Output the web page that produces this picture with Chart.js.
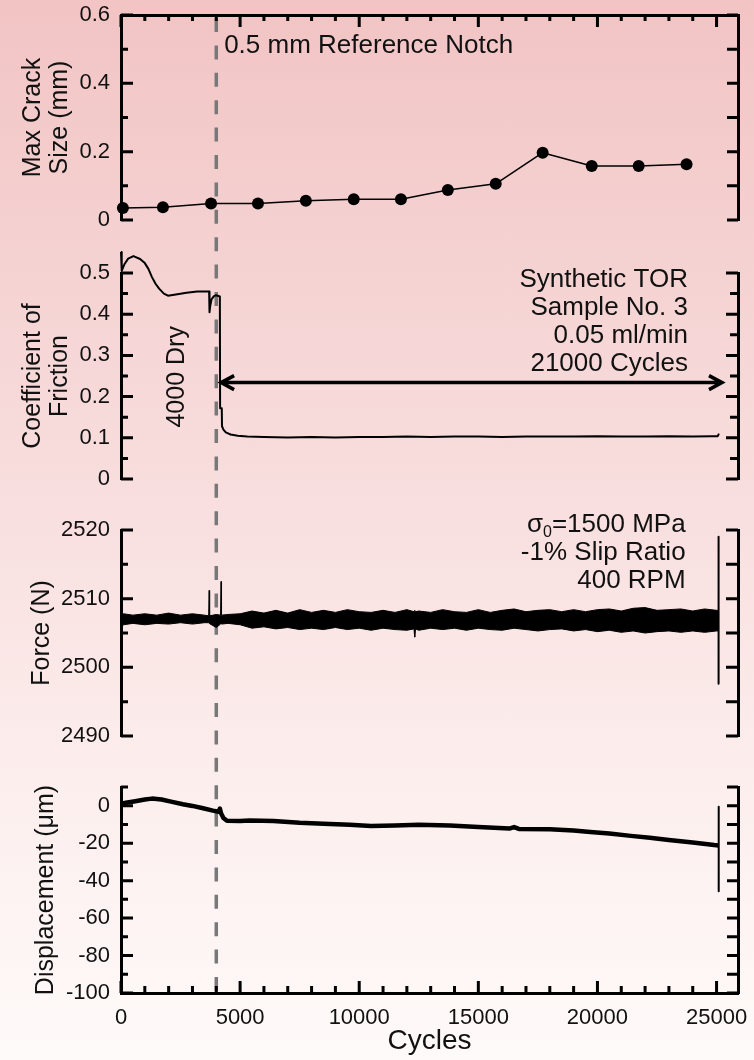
<!DOCTYPE html>
<html>
<head>
<meta charset="utf-8">
<script src="https://cdn.jsdelivr.net/npm/chart.js@4.4.1/dist/chart.umd.min.js"></script>
<style>
  html, body { margin: 0; padding: 0; }
  body {
    width: 754px; height: 1060px; position: relative; overflow: hidden;
    background: linear-gradient(to bottom, #f2c4c4 0%, #f5d2d2 25%, #f9e0e0 50%, #fcefee 75%, #fefaf9 100%);
  }
  canvas { position: absolute; left: 0; }
</style>
</head>
<body>
<canvas id="crack" width="754" height="236" style="top:0px"></canvas>
<canvas id="cof" width="754" height="260" style="top:236px"></canvas>
<canvas id="force" width="754" height="254" style="top:496px"></canvas>
<canvas id="disp" width="754" height="310" style="top:750px"></canvas>
<script>
const FONT = "'Liberation Sans', Arial, Helvetica, sans-serif"
Chart.defaults.font.family = FONT
Chart.defaults.color = '#111'

const X_MAX = 25900
const NOTCH = 4000

// tick labels
const xTicks = [0, 5000, 10000, 15000, 20000, 25000]
const crackTicks = [0, 0.2, 0.4, 0.6]
const cofTicks = [0, 0.1, 0.2, 0.3, 0.4, 0.5]
const forceTicks = [2490, 2500, 2510, 2520]
const dispTicks = [-100, -80, -60, -40, -20, 0]

// max crack size (mm)
const crackCycles = [80, 1760, 3780, 5750, 7760, 9770, 11750, 13720, 15730, 17700, 19760, 21730, 23740]
const crackSize = [0.035, 0.037, 0.048, 0.048, 0.056, 0.061, 0.061, 0.088, 0.106, 0.197, 0.158, 0.158, 0.163]

// coefficient of friction
const cofCycles = [0, 30, 150, 300, 520, 800, 1000, 1150, 1300, 1450, 1600, 1800, 1970, 2300, 2750, 3200, 3700, 3715, 3740, 3800,
  3900, 3990, 4150, 4160, 4230, 4240, 4300, 4400, 4600, 4900, 5300, 6000, 7000, 8000, 9000, 10000, 11000, 12000, 13000, 14000,
  15000, 16000, 17000, 18000, 19000, 20000, 21000, 22000, 23000, 24000, 24800, 25050, 25100]
const cofValues = [0.551, 0.505, 0.522, 0.535, 0.541, 0.534, 0.524, 0.510, 0.490, 0.474, 0.462, 0.450, 0.445, 0.448, 0.452, 0.455, 0.455, 0.405, 0.418, 0.436,
  0.444, 0.446, 0.443, 0.172, 0.172, 0.128, 0.12, 0.113, 0.108, 0.105, 0.103, 0.102, 0.101, 0.102, 0.101, 0.102, 0.102, 0.103, 0.102, 0.103,
  0.103, 0.102, 0.103, 0.103, 0.103, 0.104, 0.103, 0.103, 0.104, 0.103, 0.104, 0.104, 0.11]
const arrowCycles = [4160, 25270]
const arrowLevel = 0.234

// force (N): upper / lower edge of the noisy trace
const forceCycles = [0, 100, 500, 1000, 1500, 2000, 2500, 3000, 3500, 3680, 3700, 3720, 4000, 4180, 4200, 4220, 4500, 5000, 5500, 6000,
  6500, 7000, 7500, 8000, 8500, 9000, 9500, 10000, 10500, 11000, 11500, 12000, 12300, 12330, 12360, 12500, 13000, 13500, 14000, 14500,
  15000, 15500, 16000, 16500, 17000, 17500, 18000, 18500, 19000, 19500, 20000, 20500, 21000, 21500, 22000, 22500, 23000, 23500, 24000, 24500,
  25000, 25080]
const forceUpper = [2507.5, 2507.8, 2507.6, 2507.8, 2507.6, 2507.9, 2507.6, 2507.8, 2507.6, 2507.5, 2511.2, 2507.5, 2507.7, 2507.6, 2512.5, 2507.6, 2507.7, 2507.8, 2508.2, 2507.9,
  2508.3, 2507.9, 2508.4, 2508.0, 2508.3, 2508.0, 2508.4, 2508.1, 2508.0, 2508.3, 2508.0, 2508.4, 2508.1, 2508.3, 2508.1, 2508.2, 2508.0, 2508.4, 2508.1, 2508.0,
  2508.4, 2508.0, 2508.3, 2508.5, 2508.1, 2508.3, 2508.4, 2508.1, 2508.4, 2508.1, 2508.4, 2508.5, 2508.2, 2508.6, 2508.7, 2508.3, 2508.4, 2508.5, 2508.2, 2508.5,
  2508.3, 2508.3]
const forceLower = [2505.7, 2506.2, 2506.4, 2506.2, 2506.4, 2506.3, 2506.5, 2506.3, 2506.5, 2506.5, 2506.4, 2506.4, 2505.8, 2506.3, 2506.4, 2506.3, 2506.4, 2506.2, 2505.7, 2505.9,
  2505.6, 2505.8, 2505.5, 2505.7, 2505.5, 2505.8, 2505.5, 2505.7, 2505.4, 2505.7, 2505.5, 2505.4, 2505.6, 2504.4, 2505.6, 2505.4, 2505.7, 2505.5, 2505.7, 2505.4,
  2505.7, 2505.5, 2505.4, 2505.7, 2505.5, 2505.3, 2505.5, 2505.6, 2505.3, 2505.5, 2505.2, 2505.4, 2505.1, 2505.3, 2505.0, 2505.2, 2505.3, 2505.1, 2505.3, 2505.1,
  2505.3, 2505.3]
const forceEndCycles = [25085, 25085]
const forceEndValues = [2519.0, 2497.6]

// displacement (um)
const dispCycles = [0, 200, 600, 1000, 1300, 1700, 2100, 2600, 3000, 3400, 3860, 4100, 4150, 4200, 4300, 4450, 5000, 5400, 6400, 7500,
  8500, 9600, 10500, 11500, 12500, 13800, 15000, 16300, 16500, 16700, 18000, 19000, 19700, 20500, 21400, 22200, 23000, 24000, 24900, 25080]
const dispValues = [1.0, 1.6, 2.4, 3.3, 3.8, 3.3, 2.2, 0.8, -0.1, -1.2, -2.6, -3.2, -1.5, -4.0, -6.5, -8.0, -8.2, -7.9, -8.2, -9.1,
  -9.6, -10.2, -10.8, -10.6, -10.2, -10.6, -11.4, -12.2, -11.4, -12.4, -12.6, -13.2, -14.0, -14.8, -16.1, -17.1, -18.3, -19.6, -21.0, -21.2]
const dispEndCycles = [25090, 25090]
const dispEndValues = [-0.5, -45.7]

const pts = (xs, ys) => xs.map((x, i) => ({ x, y: ys[i] }))
const fixTicks = values => s => { s.ticks = values.map(value => ({ value })) }

function drawTicks (chart, t) {
  const s = chart.scales[t.scale]
  const a = chart.chartArea
  const ctx = chart.ctx
  ctx.save()
  ctx.strokeStyle = '#000'
  ctx.lineWidth = 3
  ctx.beginPath()
  const n = Math.round((s.max - s.min) / t.step)
  for (let i = 0; i <= n; i++) {
    const v = s.min + i * t.step
    if (v > s.max + 1e-9) break
    const major = Math.abs(v / t.major - Math.round(v / t.major)) < 1e-6
    const len = major ? (t.big || 12) : (t.small || 7)
    const p = s.getPixelForValue(v)
    if (t.side === 'left') { ctx.moveTo(a.left, p); ctx.lineTo(a.left + len, p) }
    if (t.side === 'right') { ctx.moveTo(a.right, p); ctx.lineTo(a.right - len, p) }
    if (t.side === 'top') { ctx.moveTo(p, a.top); ctx.lineTo(p, a.top + len) }
    if (t.side === 'bottom') { ctx.moveTo(p, a.bottom); ctx.lineTo(p, a.bottom - len) }
  }
  ctx.stroke()
  ctx.restore()
}

function drawNote (chart, n) {
  const { ctx, scales: { x, y } } = chart
  const size = n.size || 26
  const parts = n.parts || [{ t: n.text }]
  const fontOf = p => `${p.sub ? 16 : size}px ${FONT}`
  ctx.save()
  ctx.translate(x.getPixelForValue(n.x), y.getPixelForValue(n.y))
  if (n.rotate) ctx.rotate(n.rotate)
  ctx.fillStyle = '#111'
  ctx.textAlign = 'left'
  ctx.textBaseline = n.baseline || 'alphabetic'
  let w = 0
  for (const p of parts) { ctx.font = fontOf(p); w += ctx.measureText(p.t).width }
  let cx = n.align === 'right' ? -w : n.align === 'center' ? -w / 2 : 0
  for (const p of parts) {
    ctx.font = fontOf(p)
    ctx.fillText(p.t, cx, p.sub ? 5 : 0)
    cx += ctx.measureText(p.t).width
  }
  ctx.restore()
}

function drawArrow (chart, ar) {
  const { ctx, scales: { x, y } } = chart
  const x1 = x.getPixelForValue(ar.from)
  const x2 = x.getPixelForValue(ar.to)
  const py = y.getPixelForValue(ar.level)
  ctx.save()
  ctx.strokeStyle = '#000'
  ctx.lineWidth = 3.5
  ctx.beginPath()
  ctx.moveTo(x1 + 2, py); ctx.lineTo(x2 - 2, py)
  ctx.moveTo(x1 + 14, py - 7); ctx.lineTo(x1 + 1, py); ctx.lineTo(x1 + 14, py + 7)
  ctx.moveTo(x2 - 14, py - 7); ctx.lineTo(x2 - 1, py); ctx.lineTo(x2 - 14, py + 7)
  ctx.stroke()
  ctx.restore()
}

const frame = {
  id: 'frame',
  beforeDatasetsDraw (chart, args, o) {
    const { ctx, chartArea: a } = chart
    const px = chart.scales.x.getPixelForValue(NOTCH)
    const y0 = o.dashFrom === 'area' ? a.top + 3 : 0
    const y1 = o.dashTo === 'area' ? a.bottom + 4 : chart.height
    ctx.save()
    ctx.strokeStyle = '#787878'
    ctx.lineWidth = 3.5
    ctx.setLineDash([14, 13.4])
    ctx.lineDashOffset = (o.top + y0 - 18) % 27.4
    ctx.beginPath(); ctx.moveTo(px, y0); ctx.lineTo(px, y1); ctx.stroke()
    ctx.restore()
  },
  afterDraw (chart, args, o) {
    for (const t of o.ticks || []) drawTicks(chart, t)
    for (const n of o.notes || []) drawNote(chart, n)
    if (o.arrow) drawArrow(chart, o.arrow)
  }
}

const label = v => String(Math.round(v * 100) / 100)

function panel (id, o) {
  const yBase = {
    min: o.yMin, max: o.yMax,
    grid: { display: false, drawTicks: true, tickLength: 11 },
    border: { color: '#000', width: 3 }
  }
  const xAxis = {
    type: 'linear', min: 0, max: X_MAX,
    grid: { display: false, drawTicks: true, tickLength: 12 },
    border: { color: '#000', width: 3 },
    afterBuildTicks: fixTicks(xTicks)
  }
  if (o.xMode === 'top') {
    Object.assign(xAxis, { position: 'top', ticks: { display: false }, afterFit: s => { s.height = 0 } })
  } else if (o.xMode === 'bottom') {
    Object.assign(xAxis, {
      position: 'bottom',
      ticks: { font: { size: 22 }, padding: 0, maxRotation: 0, autoSkip: false, callback: label },
      title: { display: true, text: 'Cycles', font: { size: 28, lineHeight: 1.2 }, color: '#111', padding: { top: 0, bottom: 2 } },
      afterFit: s => { s.height = 67 }
    })
  } else {
    xAxis.display = false
  }
  return new Chart(document.getElementById(id), {
    type: 'scatter',
    data: { datasets: o.datasets },
    options: {
      responsive: false,
      animation: false,
      devicePixelRatio: 1,
      events: [],
      layout: { padding: { top: o.padTop, bottom: o.padBottom, left: 0, right: 0 } },
      elements: { point: { radius: 0 }, line: { borderColor: '#000', borderJoinStyle: 'round' } },
      plugins: {
        legend: { display: false },
        tooltip: { enabled: false },
        frame: Object.assign({ top: o.top }, o.frame)
      },
      scales: {
        x: xAxis,
        y: Object.assign({}, yBase, {
          position: 'left',
          ticks: { font: { size: 22 }, padding: 0, autoSkip: false, callback: label },
          afterBuildTicks: fixTicks(o.yTicks),
          title: { display: true, text: o.title, font: { size: 25, lineHeight: 1.1 }, color: '#111', padding: { top: o.titlePad, bottom: 0 } },
          afterFit: s => { s.width = 121 }
        }),
        y2: Object.assign({}, yBase, {
          position: 'right',
          ticks: { display: false },
          afterFit: s => { s.width = 16 }
        })
      }
    },
    plugins: [frame]
  })
}

const line = (data, w, extra) => Object.assign({ data, showLine: true, borderColor: '#000', borderWidth: w, pointRadius: 0, clip: false }, extra || {})

panel('crack', {
  top: 0, padTop: 15, padBottom: 16, xMode: 'top',
  yMin: 0, yMax: 0.6, yTicks: crackTicks,
  title: ['Max Crack', 'Size (mm)'], titlePad: 19,
  datasets: [line(pts(crackCycles, crackSize), 1.5, { pointRadius: 6, pointBackgroundColor: '#000', pointBorderWidth: 0 })],
  frame: {
    dashFrom: 'area', dashTo: 'edge',
    ticks: [
      { scale: 'y', side: 'left', step: 0.1, major: 0.2 },
      { scale: 'y2', side: 'right', step: 0.1, major: 0.1, big: 11 },
      { scale: 'x', side: 'top', step: 1000, major: 5000, small: 6 }
    ],
    notes: [{ text: '0.5 mm Reference Notch', x: 4330, y: 0.489 }]
  }
})

panel('cof', {
  top: 236, padTop: 37, padBottom: 17, xMode: 'none',
  yMin: 0, yMax: 0.5, yTicks: cofTicks,
  title: ['Coefficient of', 'Friction'], titlePad: 19,
  datasets: [line(pts(cofCycles, cofValues), 2)],
  frame: {
    dashFrom: 'edge', dashTo: 'edge',
    ticks: [
      { scale: 'y', side: 'left', step: 0.05, major: 0.1 },
      { scale: 'y2', side: 'right', step: 0.05, major: 0.1, big: 12, small: 8 }
    ],
    notes: [
      { text: 'Synthetic TOR', x: 23800, y: 0.466, align: 'right' },
      { text: 'Sample No. 3', x: 23800, y: 0.398, align: 'right' },
      { text: '0.05 ml/min', x: 23800, y: 0.330, align: 'right' },
      { text: '21000 Cycles', x: 23800, y: 0.262, align: 'right' },
      { text: '4000 Dry', size: 25, x: 2350, y: 0.248, align: 'center', baseline: 'middle', rotate: -Math.PI / 2 }
    ],
    arrow: { from: arrowCycles[0], to: arrowCycles[1], level: arrowLevel }
  }
})

panel('force', {
  top: 496, padTop: 34, padBottom: 14, xMode: 'none',
  yMin: 2490, yMax: 2520, yTicks: forceTicks,
  title: 'Force (N)', titlePad: 28,
  datasets: [
    line(pts(forceCycles, forceUpper), 1),
    line(pts(forceCycles, forceLower), 1, { fill: '-1', backgroundColor: '#000' }),
    line(pts(forceEndCycles, forceEndValues), 2)
  ],
  frame: {
    dashFrom: 'edge', dashTo: 'edge',
    ticks: [
      { scale: 'y', side: 'left', step: 5, major: 10 },
      { scale: 'y2', side: 'right', step: 5, major: 5, big: 12 }
    ],
    notes: [
      { parts: [{ t: 'σ' }, { t: '0', sub: true }, { t: '=1500 MPa' }], x: 23700, y: 2519.7, align: 'right' },
      { text: '-1% Slip Ratio', x: 23700, y: 2515.6, align: 'right' },
      { text: '400 RPM', x: 23700, y: 2511.5, align: 'right' }
    ]
  }
})

panel('disp', {
  top: 750, padTop: 37, padBottom: 0, xMode: 'bottom',
  yMin: -100, yMax: 10, yTicks: dispTicks,
  title: 'Displacement (μm)', titlePad: 32,
  datasets: [
    line(pts(dispCycles, dispValues), 4.5),
    line(pts(dispEndCycles, dispEndValues), 2)
  ],
  frame: {
    dashFrom: 'edge', dashTo: 'area',
    ticks: [
      { scale: 'y', side: 'left', step: 10, major: 20 },
      { scale: 'y2', side: 'right', step: 10, major: 10, big: 11 },
      { scale: 'x', side: 'bottom', step: 1000, major: 5000 }
    ]
  }
})
</script>
</body>
</html>
